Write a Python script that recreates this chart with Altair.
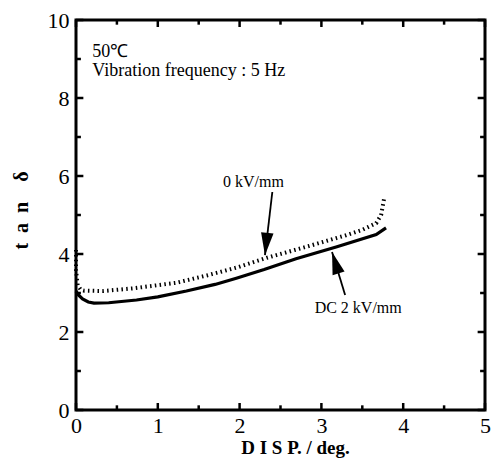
import altair as alt
import pandas as pd

# tan delta versus displacement at 50 degC, 5 Hz vibration
dc_disp = [0.0, 0.03, 0.08, 0.15, 0.22, 0.40, 0.74, 1.00, 1.35, 1.70, 1.96, 2.30, 2.69, 3.18, 3.67, 3.79]
dc_tan = [3.05, 2.95, 2.85, 2.77, 2.74, 2.75, 2.82, 2.90, 3.05, 3.22, 3.38, 3.60, 3.88, 4.18, 4.50, 4.67]

zero_disp = [0.0, 0.0, 0.02, 0.06, 0.10, 0.33, 0.70, 1.22, 1.60, 1.96, 2.33, 2.89, 3.30, 3.50, 3.67, 3.73, 3.77]
zero_tan = [4.10, 3.60, 3.20, 3.08, 3.06, 3.05, 3.12, 3.26, 3.45, 3.65, 3.90, 4.23, 4.48, 4.62, 4.79, 5.00, 5.46]

# annotation arrows: tail -> tip, with label position
arrow_labels = ["0 kV/mm", "DC 2 kV/mm"]
arrow_tail_x = [2.40, 3.29]
arrow_tail_y = [5.59, 2.95]
arrow_tip_x = [2.31, 3.13]
arrow_tip_y = [3.97, 4.05]
arrow_angle = [186, 343]
label_x = [2.17, 3.45]
label_y = [5.85, 2.62]

x_major = [0, 1, 2, 3, 4, 5]
x_minor = [0.5, 1.5, 2.5, 3.5, 4.5]
y_major = [0, 2, 4, 6, 8, 10]
y_minor = [1, 3, 5, 7, 9]

W, H = 409, 390
FONT = "Liberation Serif"

xs = alt.Scale(domain=[0, 5], nice=False)
ys = alt.Scale(domain=[0, 10], nice=False)

dc = pd.DataFrame({"disp": dc_disp, "tan": dc_tan, "i": range(len(dc_disp))})
zero = pd.DataFrame({"disp": zero_disp, "tan": zero_tan, "i": range(len(zero_disp))})

base_x = alt.X("disp:Q", scale=xs, axis=alt.Axis(
    values=x_major, format="d", ticks=False, domain=False, grid=False, labelFontSize=22,
    labelFont=FONT, labelPadding=5, labelColor="black", labelFlush=False,
    title="D I S P.  / deg.", titleFont=FONT, titleFontSize=19, titleFontWeight="bold",
    titleColor="black", titlePadding=2, titleX=219))
base_y = alt.Y("tan:Q", scale=ys, axis=alt.Axis(
    values=y_major, format="d", ticks=False, domain=False, grid=False, labelFontSize=22,
    labelFont=FONT, labelPadding=7, labelColor="black", labelFlush=False,
    title="t\u2002a\u2002n\u2003\u03b4", titleFont=FONT, titleFontSize=20, titleFontWeight="bold",
    titleColor="black", titlePadding=16, titleY=190))

# inward ticks on all four sides, lengths given in data units
x_vals = x_major + x_minor
x_len = [0.18] * len(x_major) + [0.12] * len(x_minor)
y_vals = y_major + y_minor
y_len = [0.09] * len(y_major) + [0.06] * len(y_minor)

bt = pd.DataFrame({"tv": x_vals, "ta": [0.0] * len(x_vals), "tb": x_len})
tt = pd.DataFrame({"tv": x_vals, "ta": [10.0] * len(x_vals), "tb": [10 - d for d in x_len]})
lt = pd.DataFrame({"tv": y_vals, "ta": [0.0] * len(y_vals), "tb": y_len})
rt = pd.DataFrame({"tv": y_vals, "ta": [5.0] * len(y_vals), "tb": [5 - d for d in y_len]})


def vticks(df):
    return alt.Chart(df).mark_rule(color="black", strokeWidth=2.5).encode(
        x=alt.X("tv:Q", scale=xs), y=alt.Y("ta:Q", scale=ys), y2=alt.Y2("tb:Q"))


def hticks(df):
    return alt.Chart(df).mark_rule(color="black", strokeWidth=2.5).encode(
        y=alt.Y("tv:Q", scale=ys), x=alt.X("ta:Q", scale=xs), x2=alt.X2("tb:Q"))


dc_line = alt.Chart(dc).mark_line(color="black", strokeWidth=3.2).encode(
    x=base_x, y=base_y, order="i:Q")
zero_line = alt.Chart(zero).mark_line(
    color="black", strokeWidth=4, strokeDash=[1.5, 3.3]).encode(
    x=alt.X("disp:Q", scale=xs), y=alt.Y("tan:Q", scale=ys), order="i:Q")

arr = pd.DataFrame({"label": arrow_labels, "tx": arrow_tail_x, "ty": arrow_tail_y,
                    "hx": arrow_tip_x, "hy": arrow_tip_y, "ang": arrow_angle,
                    "lx": label_x, "ly": label_y})
shafts = alt.Chart(arr).mark_rule(color="black", strokeWidth=1.8).encode(
    x=alt.X("tx:Q", scale=xs), y=alt.Y("ty:Q", scale=ys), x2="hx:Q", y2="hy:Q")
heads = alt.Chart(arr).mark_point(
    shape="M0,0 L-0.28,1 L0.28,1 Z", filled=True, color="black", opacity=1,
    size=2000).encode(
    x=alt.X("hx:Q", scale=xs), y=alt.Y("hy:Q", scale=ys), angle=alt.Angle("ang:Q", scale=None))
labels = alt.Chart(arr).mark_text(font=FONT, fontSize=16, color="black").encode(
    x=alt.X("lx:Q", scale=xs), y=alt.Y("ly:Q", scale=ys), text="label:N")

info = pd.DataFrame({"t": ["50℃", "Vibration frequency : 5 Hz"], "x": [0.2, 0.2], "y": [9.17, 8.68]})
info_text = alt.Chart(info).mark_text(font=FONT, fontSize=18, color="black", align="left").encode(
    x=alt.X("x:Q", scale=xs), y=alt.Y("y:Q", scale=ys), text="t:N")

chart = alt.layer(
    vticks(bt), vticks(tt), hticks(lt), hticks(rt),
    dc_line, zero_line, shafts, heads, labels, info_text,
).properties(
    width=W, height=H,
    autosize=alt.AutoSizeParams(type="none"),
    padding={"left": 76, "top": 20, "right": 7, "bottom": 53},
    background="white",
).configure_view(stroke="black", strokeWidth=3)

chart.save("out.html", embed_options={"renderer": "svg", "actions": False})
